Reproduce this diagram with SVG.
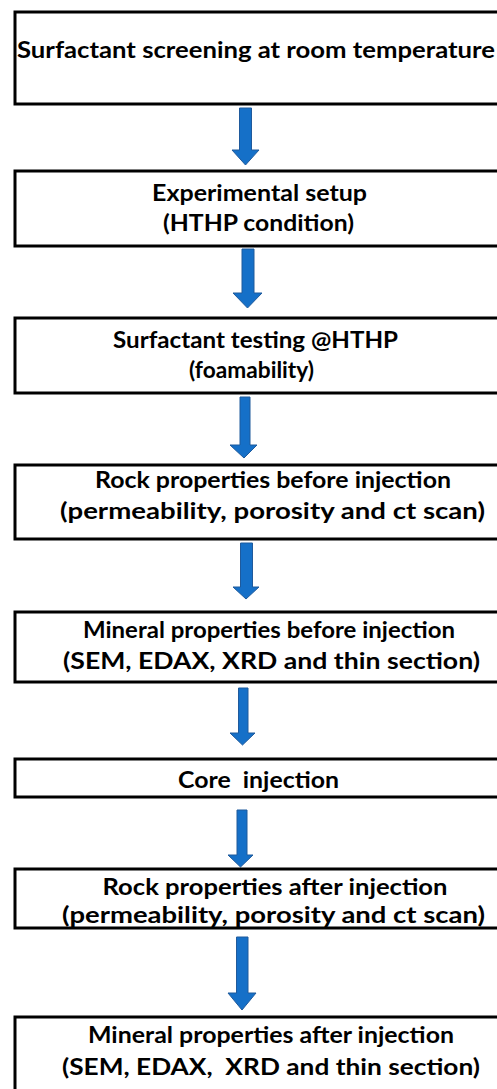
<svg xmlns="http://www.w3.org/2000/svg" width="497" height="1089" viewBox="0 0 497 1089">
<style>
.box{fill:#fff;stroke:#000;stroke-width:3}
.t{font-family:Lato,"Liberation Sans",sans-serif;font-weight:700;font-size:22px;fill:#000;text-anchor:middle}
.arr{fill:#1570C8;stroke:#1F5A9C;stroke-width:1}
</style>
<rect width="497" height="1089" fill="#fff"/>
<g id="connectors">
<polygon class="arr" points="239.5,108 251.5,108 251.5,150 259,150 245.5,165 232,150 239.5,150"/>
<polygon class="arr" points="242,249 254,249 254,293 262,293 247.5,308 233,293 242,293"/>
<polygon class="arr" points="240,397 250,397 250,445 257,445 244,458 230,445 240,445"/>
<polygon class="arr" points="240.5,543 252.5,543 252.5,587 259,587 246,599 233,587 240.5,587"/>
<polygon class="arr" points="238.5,688 248,688 248,733 255,733 242.5,745 230,733 238.5,733"/>
<polygon class="arr" points="237,810 247,810 247,855 253,855 240.5,867 228,855 237,855"/>
<polygon class="arr" points="236.5,937 248,937 248,993 256,993 242,1010 228,993 236.5,993"/>
</g>
<g id="n1"><rect class="box" x="15" y="12" width="500" height="92"/><text class="t" x="256" y="58" textLength="478" lengthAdjust="spacingAndGlyphs">Surfactant screening at room temperature</text></g>
<g id="n2"><rect class="box" x="15" y="171" width="500" height="75"/><text class="t" x="259.5" y="201" textLength="215" lengthAdjust="spacingAndGlyphs">Experimental setup</text><text class="t" x="258.5" y="231" textLength="191" lengthAdjust="spacingAndGlyphs">(HTHP condition)</text></g>
<g id="n3"><rect class="box" x="15" y="318" width="500" height="75"/><text class="t" x="255.5" y="348" textLength="285" lengthAdjust="spacingAndGlyphs">Surfactant testing @HTHP</text><text class="t" x="251.5" y="378" textLength="125" lengthAdjust="spacingAndGlyphs">(foamability)</text></g>
<g id="n4"><rect class="box" x="15" y="465" width="500" height="74"/><text class="t" x="273" y="488" textLength="356" lengthAdjust="spacingAndGlyphs">Rock properties before injection</text><text class="t" x="272.5" y="519" textLength="425" lengthAdjust="spacingAndGlyphs">(permeability, porosity and ct scan)</text></g>
<g id="n5"><rect class="box" x="15" y="612" width="500" height="70"/><text class="t" x="269" y="638" textLength="372" lengthAdjust="spacingAndGlyphs">Mineral properties before injection</text><text class="t" x="271.5" y="669" textLength="417" lengthAdjust="spacingAndGlyphs">(SEM, EDAX, XRD and thin section)</text></g>
<g id="n6"><rect class="box" x="15" y="759" width="500" height="38"/><text class="t" x="258.5" y="788" textLength="161" lengthAdjust="spacingAndGlyphs" xml:space="preserve">Core  injection</text></g>
<g id="n7"><rect class="box" x="15" y="869" width="500" height="59"/><text class="t" x="275" y="895" textLength="345" lengthAdjust="spacingAndGlyphs">Rock properties after injection</text><text class="t" x="273.5" y="923" textLength="423" lengthAdjust="spacingAndGlyphs">(permeability, porosity and ct scan)</text></g>
<g id="n8"><rect class="box" x="15" y="1017" width="500" height="90"/><text class="t" x="271" y="1043" textLength="366" lengthAdjust="spacingAndGlyphs">Mineral properties after injection</text><text class="t" x="271" y="1075" textLength="418" lengthAdjust="spacingAndGlyphs" xml:space="preserve">(SEM, EDAX,  XRD and thin section)</text></g>
</svg>
